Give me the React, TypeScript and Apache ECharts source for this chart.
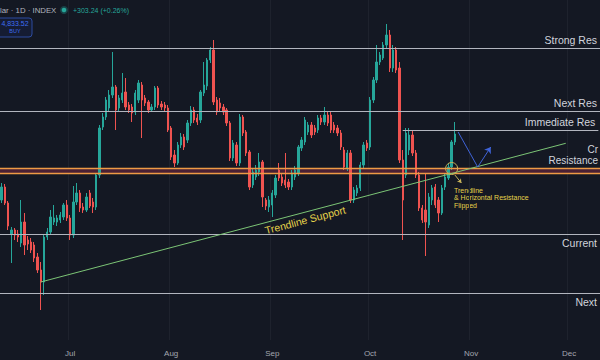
import React, { useEffect, useRef } from "react";
import * as echarts from "echarts";

// ---- categories: one slot per calendar day (daily chart incl. weekends) ----
const firstDay = Date.UTC(2023, 5, 10);
const dayCount = 184;
const categories: string[] = [];
for (let i = 0; i < dayCount; i++) {
  categories.push(new Date(firstDay + i * 86400000).toISOString().slice(0, 10));
}
const monthNames = ["Jan", "Feb", "Mar", "Apr", "May", "Jun", "Jul", "Aug", "Sep", "Oct", "Nov", "Dec"];

// ---- OHLC values ----
const opens = [
  140, 153, 137, 106, 110, 106, 97, 118, 100, 98,
  95, 83, 70, 58, 103, 108, 118, 118, 120, 123,
  135, 122, 105, 138, 147, 133, 130, 147, 138, 133,
  165, 213, 223, 232, 245, 253, 232, 240, 248, 235,
  233, 228, 240, 255, 242, 238, 230, 233, 252, 236,
  235, 232, 212, 185, 177, 195, 203, 200, 217, 230,
  222, 220, 247, 254, 280, 290, 240, 237, 233, 230,
  217, 182, 195, 177, 223, 208, 188, 155, 163, 168,
  178, 140, 133, 135, 145, 170, 163, 160, 158, 153,
  163, 167, 192, 198, 208, 215, 212, 210, 222, 218,
  225, 225, 215, 212, 207, 190, 172, 187, 140, 147,
  152, 175, 197, 193, 240, 260, 278, 282, 295, 305,
  272, 290, 272, 180, 165, 190, 205, 187, 165, 132,
  130, 115, 140, 153, 140, 127, 153, 162, 173, 198,
];
const closes = [
  153, 137, 114, 110, 105, 103, 118, 95, 96, 90,
  82, 70, 58, 103, 108, 123, 122, 122, 125, 135,
  122, 105, 138, 147, 132, 130, 143, 134, 133, 165,
  212, 223, 240, 245, 253, 230, 242, 247, 233, 230,
  227, 247, 257, 240, 237, 230, 233, 252, 235, 233,
  232, 210, 183, 177, 195, 203, 193, 217, 230, 220,
  218, 248, 255, 280, 290, 238, 228, 232, 228, 217,
  182, 197, 177, 223, 207, 187, 153, 168, 170, 178,
  143, 134, 140, 147, 162, 162, 157, 155, 153, 167,
  170, 193, 200, 220, 215, 205, 208, 222, 218, 225,
  217, 210, 210, 207, 193, 173, 187, 140, 150, 152,
  175, 195, 192, 240, 260, 278, 285, 295, 305, 272,
  290, 270, 180, 140, 207, 205, 187, 165, 132, 120,
  118, 143, 152, 135, 127, 152, 163, 173, 198, 206,
];
const lows = [
  137, 135, 110, 77, 100, 98, 93, 85, 90, 87,
  78, 67, 30, 45, 100, 105, 115, 114, 117, 120,
  119, 100, 102, 135, 128, 127, 128, 132, 127, 130,
  162, 210, 220, 228, 242, 210, 228, 237, 230, 227,
  218, 225, 237, 202, 234, 227, 228, 230, 232, 230,
  228, 208, 180, 173, 175, 192, 190, 197, 214, 217,
  215, 217, 244, 250, 277, 235, 225, 229, 225, 214,
  179, 179, 174, 174, 204, 184, 150, 152, 160, 164,
  133, 130, 128, 123, 142, 159, 154, 152, 150, 150,
  160, 164, 189, 195, 205, 202, 205, 207, 215, 215,
  214, 207, 207, 204, 190, 170, 169, 137, 137, 144,
  149, 172, 189, 190, 237, 257, 275, 280, 292, 268,
  268, 267, 177, 100, 162, 185, 184, 162, 129, 117,
  84, 112, 135, 132, 118, 125, 150, 160, 170, 195,
];
const highs = [
  157, 156, 139, 113, 112, 110, 140, 127, 104, 102,
  98, 87, 78, 105, 112, 130, 135, 125, 128, 137,
  140, 125, 154, 157, 150, 137, 147, 150, 142, 167,
  215, 227, 243, 250, 288, 255, 245, 267, 262, 238,
  236, 250, 260, 258, 245, 240, 236, 254, 254, 239,
  238, 235, 214, 190, 198, 207, 206, 220, 234, 233,
  226, 250, 278, 282, 293, 300, 243, 242, 236, 232,
  219, 200, 198, 226, 225, 210, 190, 172, 175, 187,
  180, 142, 144, 150, 165, 177, 166, 187, 161, 170,
  174, 195, 203, 223, 218, 218, 215, 225, 225, 233,
  228, 228, 218, 215, 210, 193, 190, 190, 153, 155,
  178, 198, 200, 243, 263, 295, 288, 298, 316, 310,
  295, 293, 278, 190, 212, 212, 209, 190, 168, 135,
  167, 147, 155, 156, 143, 155, 166, 177, 200, 218,
];

// ---- drawn levels ----
const strongRes = 291.5;
const nextRes = 229;
const immediateRes = 210;
const zoneTop = 171.7;
const zoneBottom = 166.7;
const currentSupport = 105.5;
const nextSupport = 46.5;
const trendStart: [number, number] = [12, 58];
const trendEnd: [number, number] = [173, 196.7];
const projection: [number, number][] = [[140, 208], [146, 173], [150, 193]];
const flipPoint: [number, number] = [138, 171.5];
const flipArrow: [number, number][] = [[139, 165], [141, 157]];
const immediateResStart = 123;
const flipNote = ["Trendline", "& Horizontal Resistance", "Flipped"];

const BG = "#141823";
const UP = "#26a69a";
const DOWN = "#ef5350";
const LEVEL = "#b2b5be";
const LABEL = "#d1d4dc";
const ORANGE = "#ee9a45";
const YELLOW = "#e6d34b";
const BLUE = "#3f63d8";
const FONT = "'Liberation Sans', Arial, sans-serif";

export default function App() {
  const ref = useRef<HTMLDivElement>(null);
  useEffect(() => {
    if (!ref.current) return;
    const chart = echarts.init(ref.current, undefined, { renderer: "svg" });
    const isMonthStart = (_i: number, v: string) => typeof v === "string" && v.endsWith("-01");
    const candleData = opens.map((o, i) => [o, closes[i], lows[i], highs[i]]);
    const levelLabel = (text: string, pos: string, dist = 3) => ({
      show: true,
      position: pos,
      formatter: text,
      color: LABEL,
      fontSize: 10.5,
      fontFamily: FONT,
      distance: dist,
    });
    const option: any = {
      animation: false,
      backgroundColor: BG,
      textStyle: { fontFamily: FONT },
      grid: { left: 0, right: 0, top: 0, bottom: 20 },
      xAxis: {
        type: "category",
        data: categories,
        boundaryGap: true,
        axisLine: { show: false },
        axisTick: { show: false },
        axisLabel: {
          interval: isMonthStart,
          formatter: (v: string) => monthNames[parseInt(v.slice(5, 7), 10) - 1],
          color: "#a3a6af",
          fontSize: 8,
          margin: 9,
          fontFamily: FONT,
        },
        splitLine: { show: true, interval: isMonthStart, lineStyle: { color: "#1e222d", width: 1 } },
      },
      yAxis: {
        type: "value",
        min: 0,
        max: 340,
        show: false,
        splitLine: { show: false },
      },
      series: [
        {
          type: "candlestick",
          data: candleData,
          barWidth: 1.8,
          itemStyle: {
            color: UP,
            color0: DOWN,
            borderColor: UP,
            borderColor0: DOWN,
            borderWidth: 1,
          },
          markArea: {
            silent: true,
            itemStyle: { color: "#4a2034" },
            data: [[{ yAxis: zoneBottom }, { yAxis: zoneTop }]],
          },
          markLine: {
            silent: true,
            symbol: ["none", "none"],
            animation: false,
            data: [
              { yAxis: strongRes, lineStyle: { color: LEVEL, width: 1, type: "solid" }, label: levelLabel("Strong Res", "insideEndTop") },
              { yAxis: nextRes, lineStyle: { color: LEVEL, width: 1, type: "solid" }, label: levelLabel("Next Res", "insideEndTop") },
              [
                { coord: [immediateResStart, immediateRes], lineStyle: { color: LEVEL, width: 1, type: "solid" }, label: levelLabel("Immediate Res", "insideEndTop") },
                { coord: [dayCount - 1, immediateRes] },
              ],
              { yAxis: zoneTop, lineStyle: { color: ORANGE, width: 1.3, type: "solid" }, label: { ...levelLabel("Cr\nResistance", "insideEndTop", 2), fontSize: 10, lineHeight: 11, align: "right" } },
              { yAxis: zoneBottom, lineStyle: { color: ORANGE, width: 1.3, type: "solid" }, label: { show: false } },
              { yAxis: currentSupport, lineStyle: { color: LEVEL, width: 1, type: "solid" }, label: levelLabel("Current", "insideEndBottom") },
              { yAxis: nextSupport, lineStyle: { color: LEVEL, width: 1, type: "solid" }, label: levelLabel("Next", "insideEndBottom") },
              [
                {
                  coord: trendStart,
                  lineStyle: { color: "#7cc576", width: 1, type: "solid" },
                  label: { show: true, position: "insideMiddleBottom", formatter: "Trendline Support", color: YELLOW, fontSize: 10.5, fontFamily: FONT, distance: 2 },
                },
                { coord: trendEnd },
              ],
              [
                { coord: projection[0], lineStyle: { color: BLUE, width: 1, type: "solid" }, label: { show: false } },
                { coord: projection[1] },
              ],
              [
                { coord: projection[1], lineStyle: { color: BLUE, width: 1, type: "solid" }, label: { show: false } },
                { coord: projection[2], symbol: "arrow", symbolSize: 6 },
              ],
              [
                { coord: flipArrow[0], lineStyle: { color: "#c8b45a", width: 1, type: "solid" }, label: { show: false } },
                { coord: flipArrow[1], symbol: "arrow", symbolSize: 4 },
              ],
            ],
          },
          markPoint: {
            silent: true,
            data: [
              {
                coord: flipPoint,
                symbol: "circle",
                symbolSize: 12,
                itemStyle: { color: "rgba(0,0,0,0)", borderColor: "#c8b45a", borderWidth: 1 },
                label: { show: false },
              },
            ],
          },
        },
      ],
      graphic: [
        { type: "text", x: 0, y: 10, style: { text: "lar · 1D · INDEX", fill: "#b2b5be", fontSize: 7.8, fontFamily: FONT, verticalAlign: "middle" } },
        { type: "circle", shape: { cx: 64, cy: 10, r: 4 }, style: { fill: "rgba(38,166,154,0.3)" } },
        { type: "circle", shape: { cx: 64, cy: 10, r: 2.3 }, style: { fill: UP } },
        { type: "text", x: 73, y: 10, style: { text: "+303.24 (+0.26%)", fill: UP, fontSize: 7, fontFamily: FONT, verticalAlign: "middle" } },
        { type: "rect", shape: { x: -4, y: 18, width: 36, height: 19, r: 3 }, style: { fill: "#151c33", stroke: "#2d4ba0", lineWidth: 1 } },
        { type: "text", x: 15, y: 23.5, style: { text: "4,833.52", fill: "#3d6df2", fontSize: 7, fontFamily: FONT, align: "center", verticalAlign: "middle" } },
        { type: "text", x: 15, y: 31, style: { text: "BUY", fill: "#3d6df2", fontSize: 5.5, fontFamily: FONT, align: "center", verticalAlign: "middle" } },
        ...flipNote.map((line, i) => ({
          type: "text",
          x: 454,
          y: 190.5 + i * 7.4,
          style: { text: line, fill: YELLOW, fontSize: 7, fontFamily: FONT, verticalAlign: "middle" },
        })),
      ],
    };
    chart.setOption(option);
    return () => chart.dispose();
  }, []);
  return <div ref={ref} style={{ position: "fixed", left: 0, top: 0, width: 600, height: 360, background: BG }} />;
}
